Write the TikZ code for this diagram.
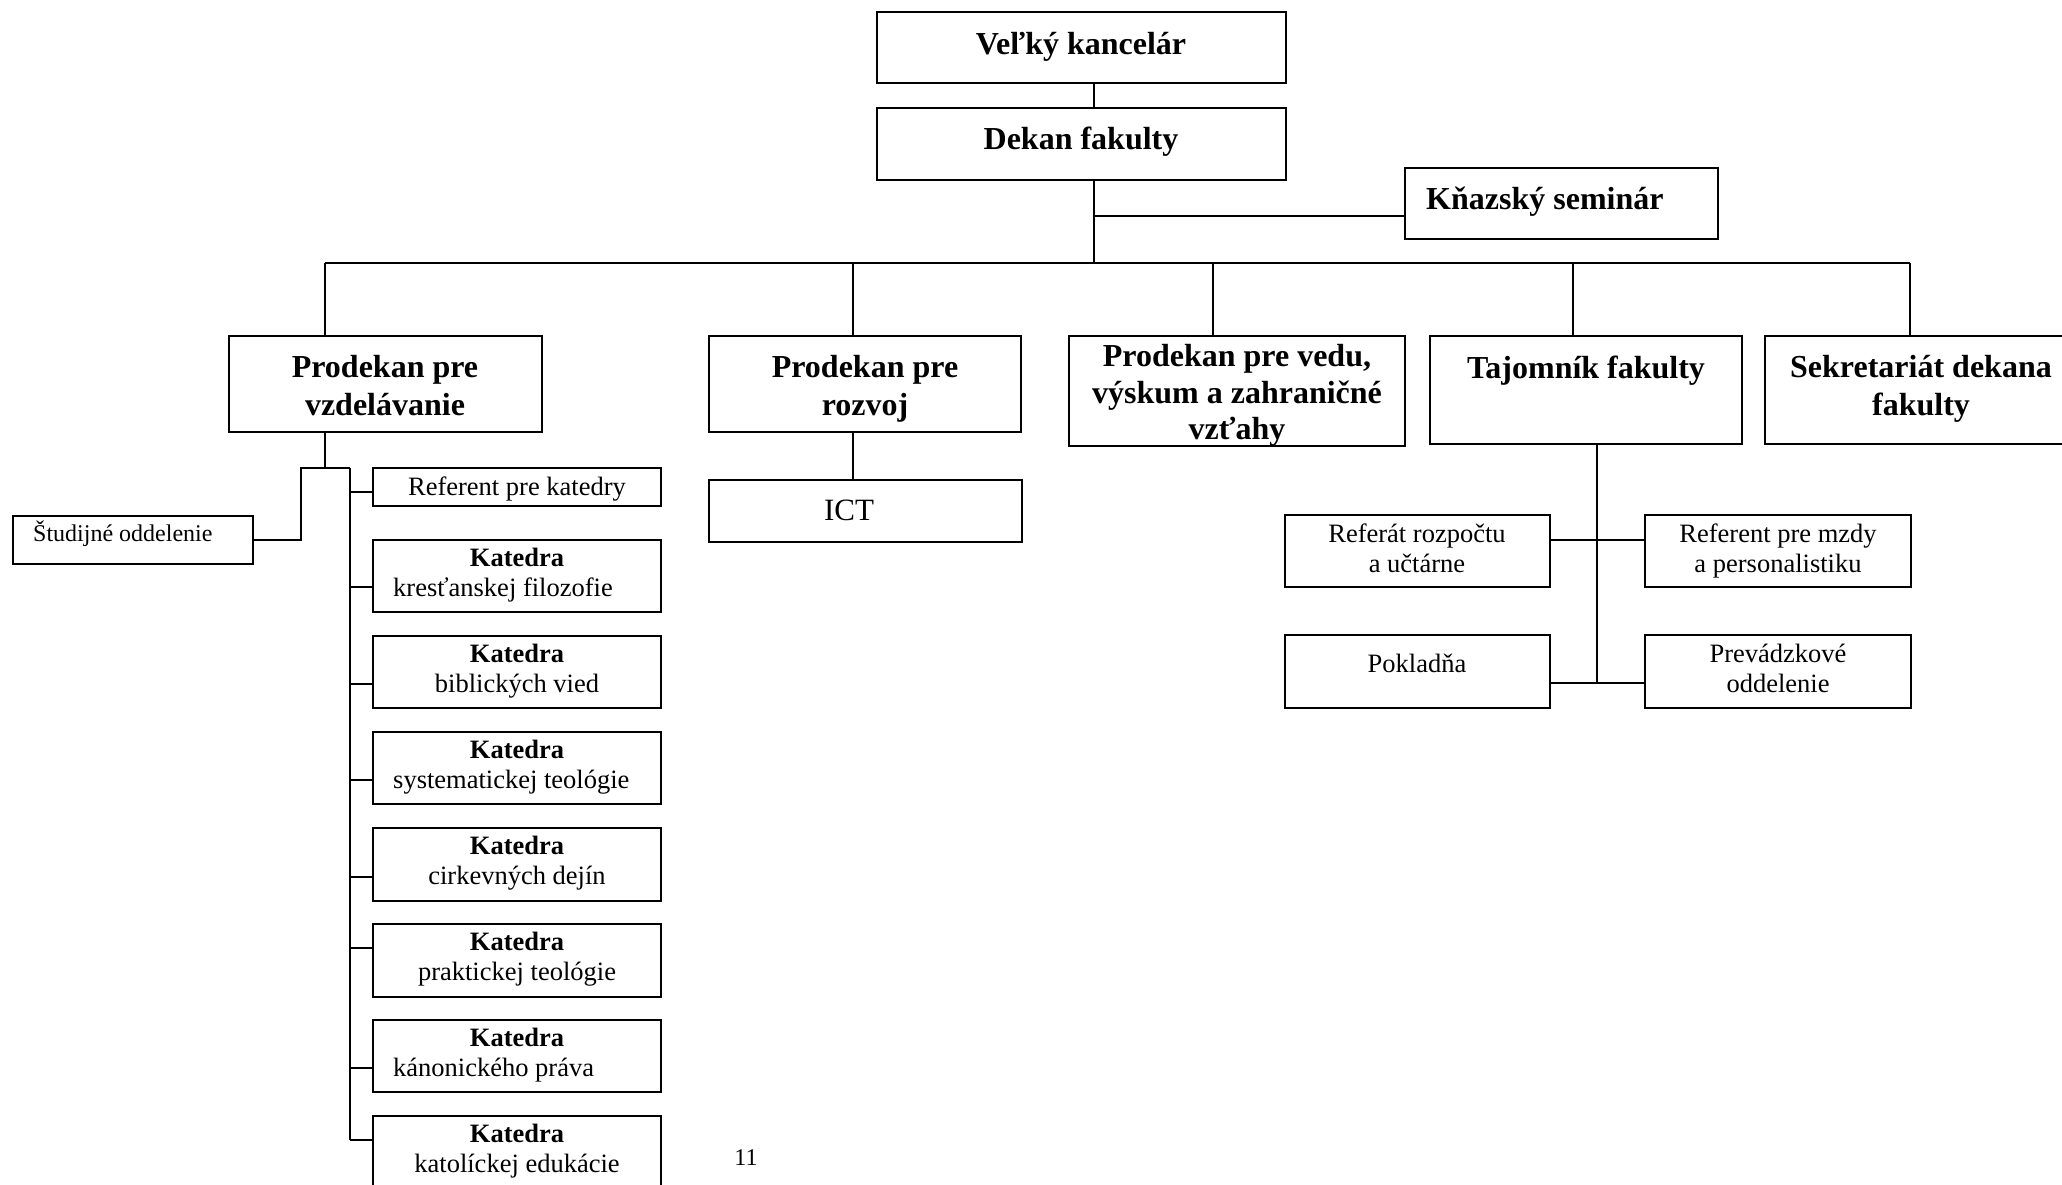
\documentclass[tikz,border=0pt]{standalone}
\usepackage{fontspec}
\setmainfont{Liberation Serif}
\newcommand\orgbox[5]{\node[orgbx, minimum width=#4-#2, minimum height=#5-#3] (#1) at (#2,#3) {};}
\tikzset{
  orgbx/.style={draw, line width=2.2pt, inner sep=0pt, outer sep=0pt, anchor=north west},
  conn/.style={line width=1.7pt},
  big/.style={font=\fontsize{32}{38}\selectfont\bfseries, inner sep=0pt, anchor=base},
  sm/.style={font=\fontsize{26.5}{30}\selectfont, inner sep=0pt, anchor=base},
  smb/.style={font=\fontsize{26.5}{30}\selectfont\bfseries, inner sep=0pt, anchor=base},
}
\begin{document}
\begin{tikzpicture}[x=1pt, y=-1pt]
\useasboundingbox (0,0) rectangle (2062,1185);
\fill[white] (0,0) rectangle (2062,1185);
% boxes
\orgbox{vk}{877}{12}{1286}{83}
\orgbox{dk}{877}{108}{1286}{180}
\orgbox{ks}{1405}{168}{1718}{239}
\orgbox{pv}{229}{336}{542}{432}
\orgbox{pr}{709}{336}{1021}{432}
\orgbox{pve}{1069}{336}{1405}{446}
\orgbox{tf}{1430}{336}{1742}{444}
\orgbox{sd}{1765}{336}{2077}{444}
\orgbox{ict}{709}{480}{1022}{542}
\orgbox{so}{13}{516}{253}{564}
\orgbox{rk}{373}{468}{661}{506}
\orgbox{ka}{373}{540}{661}{612}
\orgbox{kb}{373}{636}{661}{708}
\orgbox{kc}{373}{732}{661}{804}
\orgbox{kd}{373}{828}{661}{901}
\orgbox{ke}{373}{924}{661}{997}
\orgbox{kf}{373}{1020}{661}{1092}
\orgbox{kg}{373}{1116}{661}{1190}
\orgbox{rr}{1285}{515}{1550}{587}
\orgbox{rm}{1645}{515}{1911}{587}
\orgbox{pk}{1285}{635}{1550}{708}
\orgbox{po}{1645}{635}{1911}{708}
% coordinates
\coordinate (tx) at (1094,0);
\coordinate (kj) at (1094,216);
\coordinate (bus) at (1094,263);
\coordinate (d1) at (325,263);
\coordinate (d2) at (853,263);
\coordinate (d3) at (1213,263);
\coordinate (d4) at (1573,263);
\coordinate (d5) at (1910,263);
\coordinate (s1) at (301,468);
\coordinate (s2) at (350,468);
\coordinate (e1) at (325,468);
\coordinate (ta) at (350,492);
\coordinate (tb) at (350,587);
\coordinate (tc) at (350,684);
\coordinate (td) at (350,780);
\coordinate (te) at (350,877);
\coordinate (tf2) at (350,948);
\coordinate (tg) at (350,1068);
\coordinate (th) at (350,1140);
\coordinate (tv) at (1597,540);
\coordinate (tw) at (1597,683);
% connectors
\draw[conn] (vk.south -| tx) -- (dk.north -| tx);
\draw[conn] (dk.south -| tx) -- (bus);
\draw[conn] (kj) -- (kj -| ks.west);
\draw[conn] (d1) -- (d5);
\draw[conn] (d1) -- (d1 |- pv.north);
\draw[conn] (d2) -- (d2 |- pr.north);
\draw[conn] (d3) -- (d3 |- pve.north);
\draw[conn] (d4) -- (d4 |- tf.north);
\draw[conn] (d5) -- (d5 |- sd.north);
\draw[conn] (d2 |- pr.south) -- (d2 |- ict.north);
\draw[conn] (e1 |- pv.south) -- (e1);
\draw[conn] (s2) -- (s1) -- (s1 |- so.east) -- (so.east);
\draw[conn] (s2) -- (th);
\draw[conn] (ta) -- (ta -| rk.west);
\draw[conn] (tb) -- (tb -| ka.west);
\draw[conn] (tc) -- (tc -| kb.west);
\draw[conn] (td) -- (td -| kc.west);
\draw[conn] (te) -- (te -| kd.west);
\draw[conn] (tf2) -- (tf2 -| ke.west);
\draw[conn] (tg) -- (tg -| kf.west);
\draw[conn] (th) -- (th -| kg.west);
\draw[conn] (tv |- tf.south) -- (tw);
\draw[conn] (rr.east |- tv) -- (rm.west |- tv);
\draw[conn] (pk.east |- tw) -- (po.west |- tw);
% texts
\node[big] (l1) at (1081,55) {Veľký kancelár};
\node[big] (l2) at (1081,150) {Dekan fakulty};
\node[big, anchor=base west] (l3) at (1426,210) {Kňazský seminár};
\node[big] (l4) at (385,377) {Prodekan pre};
\node[big] (l5) at (385,415) {vzdelávanie};
\node[big] (l6) at (865,377) {Prodekan pre};
\node[big] (l7) at (865,415) {rozvoj};
\node[big] (l8) at (1237,366) {Prodekan pre vedu,};
\node[big] (l9) at (1237,403) {výskum a zahraničné};
\node[big] (l10) at (1237,439) {vzťahy};
\node[big] (l11) at (1586,378) {Tajomník fakulty};
\node[big] (l12) at (1921,377) {Sekretariát dekana};
\node[big] (l13) at (1921,415) {fakulty};
\node[font=\fontsize{31}{36}\selectfont, inner sep=0pt, anchor=base] (l14) at (849,520) {ICT};
\node[font=\fontsize{24}{28}\selectfont, inner sep=0pt, anchor=base west] (l15) at (33,541) {Študijné oddelenie};
\node[sm] (l16) at (517,495) {Referent pre katedry};
\node[smb] (ka1) at (517,566) {Katedra};
\node[sm, anchor=base west] (ka2) at (393,596) {kresťanskej filozofie};
\node[smb] (kb1) at (517,662) {Katedra};
\node[sm] (kb2) at (517,692) {biblických vied};
\node[smb] (kc1) at (517,758) {Katedra};
\node[sm, anchor=base west] (kc2) at (393,788) {systematickej teológie};
\node[smb] (kd1) at (517,854) {Katedra};
\node[sm] (kd2) at (517,884) {cirkevných dejín};
\node[smb] (ke1) at (517,950) {Katedra};
\node[sm] (ke2) at (517,980) {praktickej teológie};
\node[smb] (kf1) at (517,1046) {Katedra};
\node[sm, anchor=base west] (kf2) at (393,1076) {kánonického práva};
\node[smb] (kg1) at (517,1142) {Katedra};
\node[sm] (kg2) at (517,1172) {katolíckej edukácie};
\node[sm] (r1) at (1417,542) {Referát rozpočtu};
\node[sm] (r2) at (1417,572) {a učtárne};
\node[sm] (r3) at (1778,542) {Referent pre mzdy};
\node[sm] (r4) at (1778,572) {a personalistiku};
\node[sm] (r5) at (1417,672) {Pokladňa};
\node[sm] (r6) at (1778,662) {Prevádzkové};
\node[sm] (r7) at (1778,692) {oddelenie};
\node[font=\fontsize{24}{28}\selectfont, inner sep=0pt, anchor=base] (pg) at (746,1165) {11};
\end{tikzpicture}
\end{document}
